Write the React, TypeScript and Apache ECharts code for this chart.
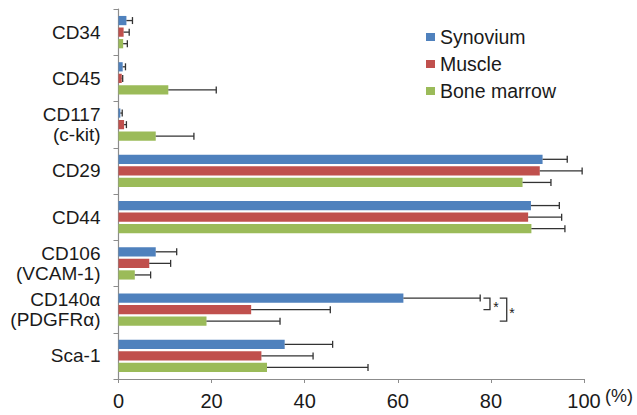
import React, { useEffect, useRef } from "react";
import * as echarts from "echarts";

const categories = [
  "CD34",
  "CD45",
  "CD117\n(c-kit)",
  "CD29",
  "CD44",
  "CD106\n(VCAM-1)",
  "CD140α\n(PDGFRα)",
  "Sca-1",
];
const seriesNames = ["Synovium", "Muscle", "Bone marrow"];
const seriesColors = ["#4F81BD", "#C0504D", "#9BBB59"];

const synovium = [1.7, 0.9, 0.4, 91.1, 88.6, 8.0, 61.2, 35.7];
const synoviumSD = [1.3, 0.6, 0.4, 5.3, 6.1, 4.5, 16.5, 10.3];
const muscle = [1.1, 0.7, 1.2, 90.5, 88.0, 6.6, 28.5, 30.7];
const muscleSD = [1.2, 0.2, 0.5, 9.1, 7.2, 4.6, 17.0, 11.1];
const boneMarrow = [1.0, 10.7, 8.0, 86.8, 88.7, 3.5, 18.9, 31.9];
const boneMarrowSD = [0.9, 10.3, 8.2, 6.1, 7.2, 3.4, 15.8, 21.7];

const xTicks = { min: 0, max: 100, interval: 20 };

// significance brackets on CD140α: [fromSeries, toSeries, xStart, xEnd, asteriskX]
const bracketCategory = 6;
const brackets = [
  [0, 1, 78.4, 79.8, 81.1],
  [0, 2, 81.9, 83.4, 84.5],
];

const values = [synovium, muscle, boneMarrow];
const sds = [synoviumSD, muscleSD, boneMarrowSD];

const FONT = "'Liberation Sans', Arial, sans-serif";
const TEXT = "#1a1a1a";
const AXIS = "#8c8c8c";

export default function App() {
  const ref = useRef<HTMLDivElement>(null);
  useEffect(() => {
    if (!ref.current) return;
    const chart = echarts.init(ref.current, undefined, { renderer: "svg" });

    const barOffset = (api: any, s: number) => {
      const band = api.size([0, 1])[1];
      return (s - 1) * band * 0.25;
    };

    const barSeries = seriesNames.map((name, i) => ({
      name,
      type: "bar",
      data: values[i],
      itemStyle: { color: seriesColors[i] },
      barCategoryGap: "30%",
      barGap: "25%",
      z: 2,
    }));

    const errSeries = seriesNames.map((name, s) => ({
      name: name + "-err",
      type: "custom",
      z: 3,
      clip: false,
      data: values[s].map((v, i) => [v + sds[s][i], i, v]),
      encode: { x: 0, y: 1 },
      renderItem: (params: any, api: any) => {
        const cat = api.value(1);
        const start = api.coord([api.value(2), cat]);
        const end = api.coord([api.value(0), cat]);
        const y = start[1] + barOffset(api, s);
        const style = { stroke: "#333333", lineWidth: 1.3 };
        return {
          type: "group",
          children: [
            { type: "line", shape: { x1: start[0], y1: y, x2: end[0], y2: y }, style },
            { type: "line", shape: { x1: end[0], y1: y - 3.5, x2: end[0], y2: y + 3.5 }, style },
          ],
        };
      },
    }));

    const bracketSeries = {
      name: "brackets",
      type: "custom",
      z: 4,
      clip: false,
      data: brackets.map((b) => [b[3], bracketCategory]),
      encode: { x: 0, y: 1 },
      renderItem: (params: any, api: any) => {
        const b = brackets[params.dataIndex];
        const cat = bracketCategory;
        const yA = api.coord([0, cat])[1] + barOffset(api, b[0]);
        const yB = api.coord([0, cat])[1] + barOffset(api, b[1]);
        const x1 = api.coord([b[2], cat])[0];
        const x2 = api.coord([b[3], cat])[0];
        const xa = api.coord([b[4], cat])[0];
        const style = { stroke: "#333333", lineWidth: 1.3, fill: null };
        return {
          type: "group",
          children: [
            {
              type: "polyline",
              shape: { points: [[x1, yA], [x2, yA], [x2, yB], [x1, yB]] },
              style,
            },
            {
              type: "text",
              x: xa,
              y: (yA + yB) / 2 + 3,
              style: {
                text: "*",
                fontSize: 14,
                fontFamily: FONT,
                fill: TEXT,
                align: "center",
                verticalAlign: "middle",
              },
            },
          ],
        };
      },
    };

    chart.setOption({
      animation: false,
      grid: { left: 118.5, right: 53, top: 9, bottom: 36, containLabel: false },
      legend: {
        data: seriesNames,
        orient: "vertical",
        left: 426,
        top: 27,
        padding: 0,
        itemWidth: 9,
        itemHeight: 8,
        itemGap: 7,
        icon: "rect",
        textStyle: { fontSize: 19.5, fontFamily: FONT, color: TEXT },
      },
      xAxis: {
        type: "value",
        min: xTicks.min,
        max: xTicks.max,
        interval: xTicks.interval,
        splitLine: { show: false },
        axisLine: { show: true, lineStyle: { color: AXIS, width: 1.2 } },
        axisTick: { show: true, length: 4, lineStyle: { color: AXIS } },
        axisLabel: { fontSize: 20, fontFamily: FONT, color: TEXT, margin: 12 },
      },
      yAxis: {
        type: "category",
        inverse: true,
        data: categories,
        axisLine: { show: true, lineStyle: { color: AXIS, width: 1.2 } },
        axisTick: { show: true, length: 5, lineStyle: { color: AXIS } },
        axisLabel: {
          fontSize: 19,
          fontFamily: FONT,
          color: TEXT,
          margin: 18,
          lineHeight: 20,
          align: "right",
        },
      },
      graphic: [
        {
          type: "text",
          left: 605,
          top: 387,
          style: { text: "(%)", fontSize: 18, fontFamily: FONT, fill: TEXT },
        },
      ],
      series: [...barSeries, ...errSeries, bracketSeries],
    });
    return () => chart.dispose();
  }, []);
  return (
    <div
      ref={ref}
      style={{ position: "fixed", left: 0, top: 0, width: 637, height: 415, background: "#fff" }}
    />
  );
}
